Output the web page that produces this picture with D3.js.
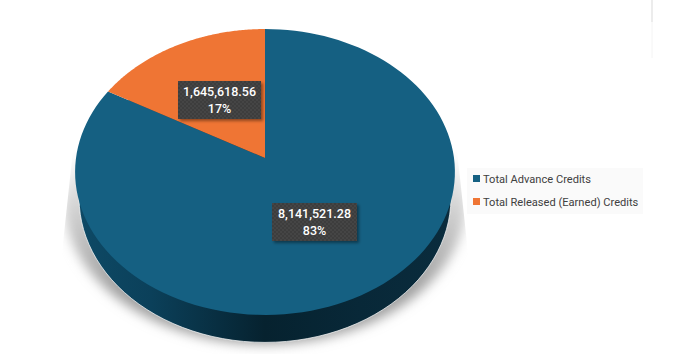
<!DOCTYPE html>
<html>
<head>
<meta charset="utf-8">
<script src="https://cdn.jsdelivr.net/npm/d3@7"></script>
<style>
html, body { margin: 0; padding: 0; background: #fff; }
svg { display: block; }
</style>
</head>
<body>
<svg id="chart" width="675" height="354"></svg>
<script>
const categories = ["Total Advance Credits", "Total Released (Earned) Credits"];
const credits = [8141521.28, 1645618.56];
const colors = ["#156082", "#EF7534"];

const W = 675, H = 354;
const svg = d3.select("#chart").attr("viewBox", `0 0 ${W} ${H}`);
const defs = svg.append("defs");

// the pie is tilted, so circle points go through a small perspective map
const cx = 265, apexY = 158;
const tilt = 0.0979, sx = 189, sy = 141.6;
const project = angle => {
    const u = Math.sin(angle), v = Math.cos(angle), k = 1 + tilt * v;
    return [cx + sx * u / k, apexY - sy * v / k];
};
const arcPoints = (a0, a1) =>
    d3.range(0, 121).map(i => project(a0 + (a1 - a0) * i / 120));
const line = d3.line();

// bottom edge of the disc: a bit narrower than the top face and lower down
const faceMidY = 172;
const lowerEdge = (scaleX, midY, scaleY) => arcPoints(0, 2 * Math.PI)
    .map(([x, y]) => [cx + (x - cx) * scaleX, midY + (y - faceMidY) * scaleY]);

const slices = d3.pie().sort(null)(credits);
const total = d3.sum(credits);
const fmtValue = d3.format(",.2f");
const fmtPct = d3.format(".0%");

// gradient for the rim
const rim = defs.append("linearGradient").attr("id", "rimGrad")
    .attr("gradientUnits", "userSpaceOnUse")
    .attr("x1", 75).attr("x2", 455).attr("y1", 0).attr("y2", 0);
[[0, "#0E4A66"], [0.2, "#0B405A"], [0.5, "#06222F"], [0.75, "#082838"], [1, "#0A2C3D"]]
    .forEach(([o, c]) => rim.append("stop").attr("offset", o).attr("stop-color", c));

// ground shadow fades out towards the top
const shade = defs.append("linearGradient").attr("id", "shadowGrad")
    .attr("gradientUnits", "userSpaceOnUse")
    .attr("x1", 0).attr("x2", 0).attr("y1", 150).attr("y2", 290);
[[0, "#FFFFFF"], [0.35, "#D8D8D8"], [1, "#A0A0A0"]]
    .forEach(([o, c]) => shade.append("stop").attr("offset", o).attr("stop-color", c));

defs.append("filter").attr("id", "shadowBlur")
    .attr("x", "-20%").attr("y", "-20%").attr("width", "140%").attr("height", "140%")
    .append("feGaussianBlur").attr("stdDeviation", 6);

const boxShadow = defs.append("filter").attr("id", "boxShadow")
    .attr("x", "-10%").attr("y", "-20%").attr("width", "125%").attr("height", "150%");
boxShadow.append("feDropShadow").attr("dx", 2).attr("dy", 2).attr("stdDeviation", 1.5)
    .attr("flood-color", "#000").attr("flood-opacity", 0.4);

const dots = defs.append("pattern").attr("id", "labelDots")
    .attr("width", 4).attr("height", 4).attr("patternUnits", "userSpaceOnUse");
dots.append("rect").attr("width", 4).attr("height", 4).attr("fill", "#3C3C3C");
dots.append("circle").attr("cx", 1).attr("cy", 1).attr("r", 0.8).attr("fill", "#4E4E4E");
dots.append("circle").attr("cx", 3).attr("cy", 3).attr("r", 0.8).attr("fill", "#4E4E4E");

// ground shadow, cut off along straight edges at the sides
defs.append("clipPath").attr("id", "shadowClip")
    .append("path").attr("d", "M73,150 L457,150 L469,262 L469,354 L61,354 L61,262 Z");
svg.append("g").attr("clip-path", "url(#shadowClip)")
    .append("path")
    .attr("d", line(lowerEdge(1.06, 200, 1.01)) + "Z")
    .attr("fill", "url(#shadowGrad)")
    .attr("filter", "url(#shadowBlur)");

// rim: the lower edge drawn whole, the top face covers all but the front
svg.append("path")
    .attr("d", line(lowerEdge(0.979, 198, 1.01)) + "Z")
    .attr("fill", "url(#rimGrad)")
    .attr("stroke", "#fff").attr("stroke-opacity", 0.7).attr("stroke-width", 1);

// top face
svg.append("g").selectAll("path").data(slices).enter().append("path")
    .attr("d", d => line([[cx, apexY], ...arcPoints(d.startAngle, d.endAngle)]) + "Z")
    .attr("fill", (d, i) => colors[i]);

// data labels
const labelBoxes = [
    { x: 272, y: 203, w: 85, h: 38 },
    { x: 178, y: 81, w: 83, h: 38 }
];
const labels = svg.append("g").selectAll("g").data(slices).enter().append("g")
    .attr("transform", (d, i) => `translate(${labelBoxes[i].x},${labelBoxes[i].y})`);
labels.append("rect")
    .attr("width", (d, i) => labelBoxes[i].w).attr("height", (d, i) => labelBoxes[i].h)
    .attr("fill", "url(#labelDots)").attr("filter", "url(#boxShadow)");
labels.append("text")
    .attr("x", (d, i) => labelBoxes[i].w / 2).attr("y", 14.5)
    .attr("text-anchor", "middle").attr("fill", "#fff")
    .attr("font-family", "Roboto, sans-serif").attr("font-size", 12.5).attr("font-weight", 500)
    .text(d => fmtValue(d.value));
labels.append("text")
    .attr("x", (d, i) => labelBoxes[i].w / 2).attr("y", 31.5)
    .attr("text-anchor", "middle").attr("fill", "#fff")
    .attr("font-family", "Roboto, sans-serif").attr("font-size", 12.5).attr("font-weight", 500)
    .text(d => fmtPct(d.value / total));

// legend
const leg = svg.append("g").attr("transform", "translate(467,168)");
leg.append("rect").attr("width", 176).attr("height", 46).attr("fill", "#FAFAFA");
const items = leg.selectAll("g").data(categories).enter().append("g")
    .attr("transform", (d, i) => `translate(6,${7 + i * 23})`);
items.append("rect").attr("width", 7).attr("height", 7)
    .attr("fill", (d, i) => colors[i]);
items.append("text").attr("x", 10).attr("y", 7.5)
    .attr("fill", "#404040").attr("font-family", "Roboto, sans-serif").attr("font-size", 11.1)
    .text(d => d);

// faint rule at the top right of the picture
svg.append("line").attr("x1", 652).attr("x2", 652).attr("y1", 0).attr("y2", 22)
    .attr("stroke", "#D9D9D9").attr("stroke-width", 1);
svg.append("line").attr("x1", 652).attr("x2", 652).attr("y1", 22).attr("y2", 58)
    .attr("stroke", "#F4F4F4").attr("stroke-width", 1);
</script>
</body>
</html>
